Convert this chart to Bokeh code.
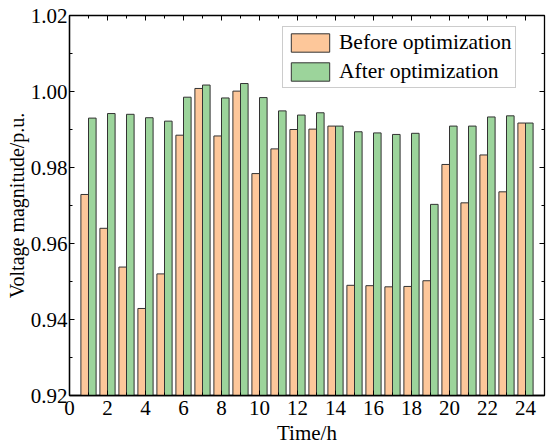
import math
from bokeh.plotting import figure
from bokeh.models import (Range1d, FixedTicker, Legend, LegendItem,
                          ColumnDataSource, PrintfTickFormatter)
from bokeh.transform import dodge
from bokeh.embed import file_html
from bokeh.resources import INLINE

hours = list(range(1, 25))
before = [0.9729, 0.9640, 0.9538, 0.9429, 0.9520, 0.9885, 1.0008, 0.9883,
          1.0001, 0.9784, 0.9849, 0.9900, 0.9901, 0.9909, 0.9490, 0.9489,
          0.9486, 0.9487, 0.9502, 0.9808, 0.9707, 0.9833, 0.9736, 0.9917]
after = [0.9930, 0.9942, 0.9940, 0.9931, 0.9922, 0.9985, 1.0017, 0.9983,
         1.0021, 0.9984, 0.9949, 0.9938, 0.9944, 0.9909, 0.9894, 0.9891,
         0.9887, 0.9890, 0.9703, 0.9909, 0.9909, 0.9933, 0.9936, 0.9917]
x_ticks = list(range(0, 25, 2))
x_minor = list(range(1, 26, 2))
y_ticks = [0.92, 0.94, 0.96, 0.98, 1.00, 1.02]
y_minor = [0.93, 0.95, 0.97, 0.99, 1.01]
x_min, x_max = 0, 25
y_min, y_max = 0.92, 1.02
series_names = ["Before optimization", "After optimization"]

FONT = "Liberation Serif"
FS = "21px"

src = ColumnDataSource(dict(hour=hours, before=before, after=after))

p = figure(width=550, height=448, output_backend="svg", toolbar_location=None,
           x_range=Range1d(x_min, x_max), y_range=Range1d(y_min, y_max),
           min_border_left=69, min_border_right=6, min_border_top=15,
           min_border_bottom=53)
p.xgrid.visible = False
p.ygrid.visible = False
p.outline_line_color = "black"
p.outline_line_width = 1.3

r1 = p.vbar(x=dodge("hour", -0.2, range=p.x_range), top="before", bottom=y_min,
            width=0.4, source=src, fill_color="#FDC79A", line_color="#333333",
            line_width=1)
r2 = p.vbar(x=dodge("hour", 0.2, range=p.x_range), top="after", bottom=y_min,
            width=0.4, source=src, fill_color="#9CD49B", line_color="#333333",
            line_width=1)

# mirrored inward ticks on the top and right frame edges (clipped to frame)
p.scatter(x=x_ticks, y=[y_max] * len(x_ticks), marker="dash", angle=math.pi / 2,
          size=10, line_color="black", line_width=1)
p.scatter(x=x_minor, y=[y_max] * len(x_minor), marker="dash", angle=math.pi / 2,
          size=6, line_color="black", line_width=1)
p.scatter(x=[x_max] * len(y_ticks), y=y_ticks, marker="dash",
          size=10, line_color="black", line_width=1)
p.scatter(x=[x_max] * len(y_minor), y=y_minor, marker="dash",
          size=6, line_color="black", line_width=1)


def style(ax, title_size):
    ax.axis_line_color = "black"
    ax.axis_line_width = 1.3
    ax.major_tick_in = 5
    ax.major_tick_out = 0
    ax.minor_tick_in = 3
    ax.minor_tick_out = 0
    ax.major_tick_line_color = "black"
    ax.minor_tick_line_color = "black"
    ax.major_label_text_font = FONT
    ax.major_label_text_font_size = FS
    ax.major_label_text_color = "black"
    ax.axis_label_text_font = FONT
    ax.axis_label_text_font_size = title_size
    ax.axis_label_text_font_style = "normal"
    ax.axis_label_text_color = "black"


xa = p.xaxis[0]
xa.ticker = FixedTicker(ticks=x_ticks, minor_ticks=x_minor)
xa.axis_label = "Time/h"
style(xa, "21px")
xa.major_label_standoff = 5
xa.axis_label_standoff = 3

ya = p.yaxis[0]
ya.ticker = FixedTicker(ticks=y_ticks, minor_ticks=y_minor)
ya.formatter = PrintfTickFormatter(format="%.2f")
ya.axis_label = "Voltage magnitude/p.u."
style(ya, "20px")
ya.major_label_standoff = 2
ya.axis_label_standoff = 0

legend = Legend(items=[LegendItem(label=series_names[0], renderers=[r1]),
                       LegendItem(label=series_names[1], renderers=[r2])],
                location=(213, 307))
legend.label_text_font = FONT
legend.label_text_font_size = "21.5px"
legend.label_text_color = "black"
legend.glyph_width = 48
legend.glyph_height = 23
legend.label_height = 23
legend.label_standoff = 5
legend.padding = 3
legend.spacing = 4
legend.margin = 0
legend.border_line_color = "#9a9a9a"
legend.border_line_width = 1
legend.background_fill_color = "white"
legend.background_fill_alpha = 1
p.add_layout(legend, "center")

open("out.html", "w").write(file_html(p, INLINE))
